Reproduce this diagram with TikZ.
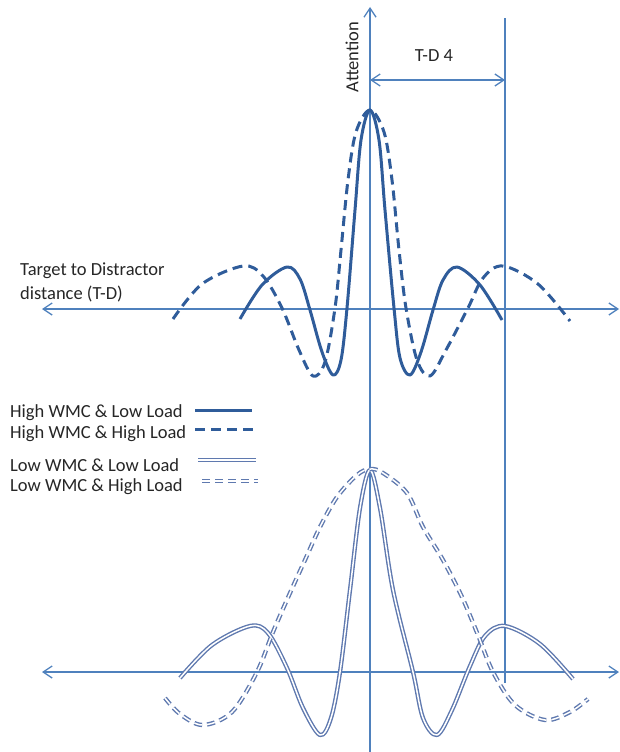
\documentclass[tikz,border=0pt]{standalone}
\usepackage{fontspec}
\setmainfont{Carlito}
\usetikzlibrary{arrows.meta}
\definecolor{axisblue}{HTML}{4F81BD}
\definecolor{darkblue}{HTML}{2F5C9A}
\definecolor{lightcurve}{HTML}{5F79AF}
\definecolor{txt}{HTML}{262626}
\begin{document}
\begin{tikzpicture}[x=1pt,y=-1pt,
  axis/.style={draw=axisblue, line width=1.3pt},
  tipend/.style={-{Straight Barb[length=9pt,width=12pt,line width=1.3pt]}},
  tipboth/.style={{Straight Barb[length=9pt,width=12pt,line width=1.3pt]}-{Straight Barb[length=9pt,width=12pt,line width=1.3pt]}},
  hilow/.style={draw=darkblue, line width=3pt, line join=round, line cap=butt},
  hihigh/.style={hilow, dash pattern=on 10pt off 6pt},
  lolow/.style={draw=lightcurve, line width=1.4pt, double=white, double distance=1.5pt, line join=round},
  lohigh/.style={lolow, dash pattern=on 8pt off 5pt},
  lbl/.style={text=txt, font=\fontsize{18.5}{24}\selectfont, inner sep=0pt},
  leg/.style={lbl, anchor=west}
]
\useasboundingbox (0,0) rectangle (620,752);

% axes coordinates
\coordinate (vtop) at (370,7);
\coordinate (vbot) at (370,752);
\coordinate (rtop) at (505,18);
\coordinate (rbot) at (505,683);
\coordinate (h1l) at (42,309);
\coordinate (h1r) at (619,309);
\coordinate (h2l) at (42,672);
\coordinate (h2r) at (619,672);
\coordinate (tdl) at (370,80);
\coordinate (tdr) at (505,80);

\draw[axis, tipend] (vbot) -- (vtop);
\draw[axis] (rbot) -- (rtop);
\draw[axis, tipboth] (h1l) -- (h1r);
\draw[axis, tipboth] (h2l) -- (h2r);
\draw[axis, tipboth] (tdl) -- (tdr);

% labels
\node[lbl, rotate=90] (att) at (352,57) {Attention};
\node[lbl] (td4) at (434,56) {T-D 4};
\node[lbl, anchor=north west, align=left] (tdlab) at (20,263) {Target to Distractor\\distance (T-D)};

% top curves
\draw[hilow] plot[smooth, tension=0.55] coordinates {
 (240,319) (262,285) (287,267) (300,279) (310,310) (322,352) (333,375) (341,360)
 (347,308) (355,210) (361,140) (370,110) (379,140) (385,210)
 (394,308) (400,358) (410,375) (421,352) (433,310) (443,280) (457,267) (480,285) (502,320)};
\draw[hihigh] plot[smooth, tension=0.55] coordinates {
 (173,319) (202,284) (243,266) (263,276) (282,308) (299,350) (313,376) (325,362)
 (335,308) (341,250) (348,180) (356,132) (370,110) (384,132) (392,180) (399,250)
 (406,308) (417,360) (430,376) (446,350) (468,308) (483,278) (503,266) (538,284) (570,321)};

% bottom curves
\draw[lolow] plot[smooth, tension=0.55] coordinates {
 (180,678) (212,645) (250,626) (268,633) (287,668) (303,708) (320,735) (331,718)
 (340,672) (350,590) (360,508) (370,470) (380,508) (393,590)
 (413,672) (423,718) (437,735) (452,710) (470,666) (485,636) (505,626) (540,644) (573,679)};
\draw[lohigh] plot[smooth, tension=0.55] coordinates {
 (165,698) (180,714) (203,725) (232,712) (257,672) (273,632) (290,593) (305,560)
 (320,527) (337,497) (357,475) (370,469) (383,473) (407,493) (423,527) (443,560)
 (462,597) (478,635) (493,672) (515,705) (545,720) (570,712) (588,699)};

% legend
\node[leg] (l1) at (10,413) {High WMC \& Low Load};
\node[leg] (l2) at (10,434) {High WMC \& High Load};
\node[leg] (l3) at (10,465) {Low WMC \& Low Load};
\node[leg] (l4) at (10,487) {Low WMC \& High Load};
\coordinate (s1a) at (195,410); \coordinate (s1b) at (252,410);
\coordinate (s2a) at (195,429); \coordinate (s2b) at (256,429);
\coordinate (s3a) at (198,460); \coordinate (s3b) at (256,460);
\coordinate (s4a) at (202,481); \coordinate (s4b) at (258,481);
\draw[hilow] (s1a) -- (s1b);
\draw[hihigh] (s2a) -- (s2b);
\draw[lolow] (s3a) -- (s3b);
\draw[lohigh] (s4a) -- (s4b);
\end{tikzpicture}
\end{document}
